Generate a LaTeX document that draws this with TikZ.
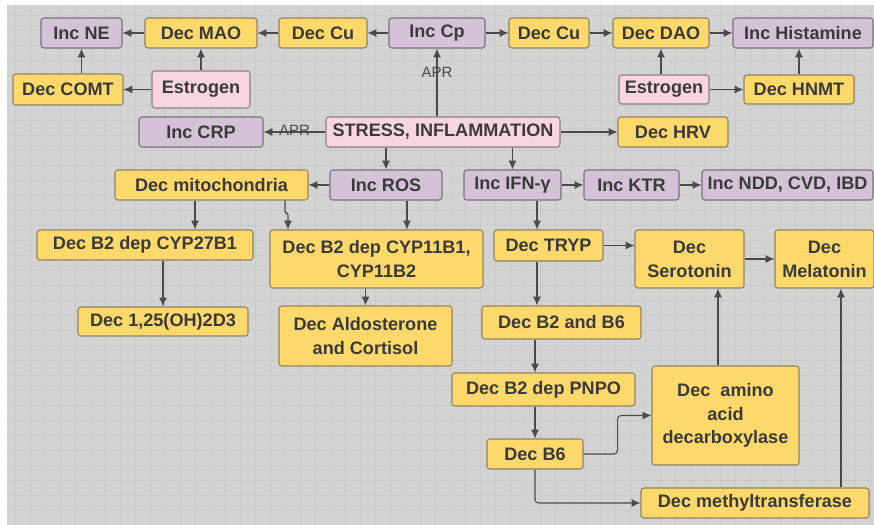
\documentclass[tikz,border=0pt]{standalone}
\usepackage{fontspec}
\setmainfont{Liberation Sans}
\usepackage{xcolor}
\usepackage{tikz}
\usetikzlibrary{arrows,arrows.meta}
\usetikzlibrary{positioning}
\definecolor{bggray}{HTML}{D3D3D3}
\definecolor{gridgray}{HTML}{C9C9C9}
\definecolor{boxyellow}{HTML}{FDD96B}
\definecolor{boxpurple}{HTML}{D4C3D7}
\definecolor{boxpink}{HTML}{F7D6E1}
\definecolor{yedge}{HTML}{8F8262}
\definecolor{pedge}{HTML}{7B6F80}
\definecolor{kedge}{HTML}{8A7F86}
\definecolor{txtgray}{HTML}{3A3A3A}
\definecolor{linegray}{HTML}{4A4A4A}
\tikzset{
  box/.style={draw=#1, rounded corners=1.6pt, line width=0.6pt, text=txtgray, align=center, inner sep=0pt,
    font=\fontsize{10.3}{13.5}\selectfont\bfseries},
  ybox/.style={box=yedge, fill=boxyellow},
  pbox/.style={box=pedge, fill=boxpurple},
  kbox/.style={box=kedge, fill=boxpink},
  link/.style={->, draw=linegray, line width=0.6pt},
  aprlabel/.style={font=\fontsize{8.5}{10}\selectfont, text=linegray, inner sep=1pt}
}

\begin{document}
\begin{tikzpicture}[>={Latex[length=5pt,width=4.5pt]}]
\useasboundingbox (0,0) rectangle (17.48,-10.5);
\fill[white] (0,0) rectangle (17.48,-10.5);
\fill[bggray] (0.14,-0.1) rectangle (17.48,-10.5);
\draw[step=0.3cm, gridgray, line width=0.2pt] (0.14,-0.1) grid (17.48,-10.5);
\node[pbox, minimum width=1.62cm, minimum height=0.6cm] (incNE) at (1.63,-0.66) {Inc NE};
\node[ybox, minimum width=2.24cm, minimum height=0.6cm] (decMAO) at (4.02,-0.66) {Dec MAO};
\node[ybox, minimum width=1.76cm, minimum height=0.6cm] (decCuL) at (6.46,-0.66) {Dec Cu};
\node[pbox, minimum width=1.92cm, minimum height=0.6cm] (incCp) at (8.74,-0.66) {Inc Cp};
\node[ybox, minimum width=1.60cm, minimum height=0.6cm] (decCuR) at (10.98,-0.66) {Dec Cu};
\node[ybox, minimum width=1.92cm, minimum height=0.6cm] (decDAO) at (13.22,-0.66) {Dec DAO};
\node[pbox, minimum width=2.80cm, minimum height=0.6cm] (incHist) at (16.06,-0.66) {Inc Histamine};
\node[ybox, minimum width=2.20cm, minimum height=0.62cm] (decCOMT) at (1.36,-1.79) {Dec COMT};
\node[kbox, minimum width=1.96cm, minimum height=0.74cm] (estroL) at (4.02,-1.79) {Estrogen};
\node[kbox, minimum width=1.80cm, minimum height=0.58cm] (estroR) at (13.28,-1.79) {Estrogen};
\node[ybox, minimum width=2.20cm, minimum height=0.58cm] (decHNMT) at (15.98,-1.79) {Dec HNMT};
\node[pbox, minimum width=2.48cm, minimum height=0.6cm] (incCRP) at (4.02,-2.64) {Inc CRP};
\node[kbox, minimum width=4.68cm, minimum height=0.6cm] (stress) at (8.86,-2.64) {STRESS, INFLAMMATION};
\node[ybox, minimum width=2.20cm, minimum height=0.6cm] (decHRV) at (13.46,-2.64) {Dec HRV};
\node[ybox, minimum width=3.86cm, minimum height=0.6cm] (decMito) at (4.23,-3.70) {Dec mitochondria};
\node[pbox, minimum width=2.24cm, minimum height=0.6cm] (incROS) at (7.72,-3.70) {Inc ROS};
\node[pbox, minimum width=1.94cm, minimum height=0.6cm] (incIFN) at (10.25,-3.70) {Inc IFN-γ};
\node[pbox, minimum width=1.90cm, minimum height=0.6cm] (incKTR) at (12.63,-3.70) {Inc KTR};
\node[pbox, minimum width=3.42cm, minimum height=0.6cm] (incNDD) at (15.75,-3.70) {Inc NDD, CVD, IBD};
\node[ybox, minimum width=4.32cm, minimum height=0.6cm] (decCYP27) at (2.90,-4.90) {Dec B2 dep CYP27B1};
\node[ybox, minimum width=4.26cm, minimum height=1.16cm] (decCYP11) at (7.53,-5.18) {Dec B2 dep CYP11B1,\\CYP11B2};
\node[ybox, minimum width=2.18cm, minimum height=0.62cm] (decTRYP) at (10.97,-4.91) {Dec TRYP};
\node[ybox, minimum width=2.18cm, minimum height=1.16cm] (decSero) at (13.79,-5.18) {Dec\\Serotonin};
\node[ybox, minimum width=1.98cm, minimum height=1.16cm] (decMela) at (16.49,-5.18) {Dec\\Melatonin};
\node[ybox, minimum width=3.40cm, minimum height=0.58cm] (decD3) at (3.26,-6.43) {Dec 1,25(OH)2D3};
\node[ybox, minimum width=3.46cm, minimum height=1.20cm] (decAldo) at (7.31,-6.72) {Dec Aldosterone\\and Cortisol};
\node[ybox, minimum width=3.18cm, minimum height=0.66cm] (decB2B6) at (11.23,-6.45) {Dec B2 and B6};
\node[ybox, minimum width=3.66cm, minimum height=0.66cm] (decPNPO) at (10.87,-7.79) {Dec B2 dep PNPO};
\node[ybox, minimum width=2.94cm, minimum height=1.98cm] (decAADC) at (14.51,-8.31) {Dec\ \ amino\\acid\\decarboxylase};
\node[ybox, minimum width=1.92cm, minimum height=0.6cm] (decB6) at (10.70,-9.08) {Dec B6};
\node[ybox, minimum width=4.56cm, minimum height=0.6cm] (decMT) at (15.10,-10.06) {Dec methyltransferase};
\draw[link] (incCp) -- (decCuL);
\draw[link] (decCuL) -- (decMAO);
\draw[link] (decMAO) -- (incNE);
\draw[link] (incCp) -- (decCuR);
\draw[link] (decCuR) -- (decDAO);
\draw[link] (decDAO) -- (incHist);
\draw[link] (estroL) -- (decMAO);
\draw[link] (estroL) -- (decCOMT);
\draw[link] (decCOMT.north -| incNE) -- (incNE);
\draw[link] (estroR.north -| decDAO) -- (decDAO);
\draw[link] (estroR) -- (decHNMT);
\draw[link] (decHNMT) -- (decHNMT |- incHist.south);
\draw[link] (stress) -- node[aprlabel, yshift=1pt] {APR} (incCRP);
\draw[link] (stress.north -| incCp) -- node[aprlabel, pos=0.65] {APR} (incCp);
\draw[link] (stress) -- (decHRV);
\draw[link] (stress.south -| incROS) -- (incROS);
\draw[link] (stress.south -| incIFN) -- (incIFN);
\draw[link] (incROS) -- (decMito);
\draw[link] (incIFN) -- (incKTR);
\draw[link] (incKTR) -- (incNDD);
\draw[link] ([xshift=-3.3mm]decMito.south) -- ([xshift=-3.3mm]decMito.south |- decCYP27.north);
\draw[link, rounded corners=1pt] ([xshift=14.7mm]decMito.south) -- ++(0,-0.25) -| ([xshift=15.3mm]decMito.south |- decCYP11.north);
\draw[link] ([xshift=4.2mm]incROS.south) -- ([xshift=4.2mm]incROS.south |- decCYP11.north);
\draw[link] (decCYP27.south -| decD3) -- (decD3);
\draw[link] (decCYP11.south -| decAldo) -- (decAldo);
\draw[link] ([xshift=-2.3mm]decTRYP.north |- incIFN.south) -- ([xshift=-2.3mm]decTRYP.north);
\draw[link] (decTRYP.east) -- (decTRYP.east -| decSero.west);
\draw[link] (decSero) -- (decMela);
\draw[link] ([xshift=-2.3mm]decTRYP.south) -- ([xshift=-2.3mm]decTRYP.south |- decB2B6.north);
\draw[link] (decB2B6.south -| decB6) -- (decPNPO.north -| decB6);
\draw[link] (decPNPO.south -| decB6) -- (decB6);
\draw[link, rounded corners=2pt] (decB6.east) -- ++(0.68,0) |- (decAADC.west);
\draw[link, rounded corners=2pt] (decB6.south) |- (decMT.west);
\draw[link] ([xshift=-1.5mm]decAADC.north) -- ([xshift=-1.5mm]decAADC.north |- decSero.south);
\draw[link] ([xshift=3.3mm]decMela.south |- decMT.north) -- ([xshift=3.3mm]decMela.south);
\end{tikzpicture}
\end{document}
